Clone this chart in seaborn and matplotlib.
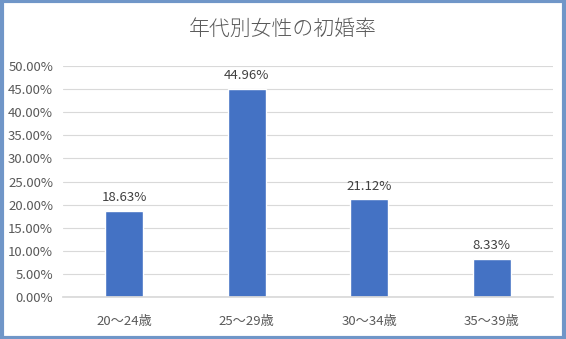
import matplotlib
matplotlib.use("Agg")
import matplotlib.pyplot as plt
import seaborn as sns
import pandas as pd
from matplotlib.patches import Rectangle
from matplotlib.ticker import PercentFormatter, MultipleLocator

categories = ["20～24歳", "25～29歳", "30～34歳", "35～39歳"]
values = [18.63, 44.96, 21.12, 8.33]
title = "年代別女性の初婚率"

sns.set_theme(style="white")
plt.rcParams['font.family'] = ['Noto Sans CJK JP', 'DejaVu Sans']

df = pd.DataFrame({"cat": categories, "val": values})

fig = plt.figure(figsize=(5.66, 3.39), dpi=100)
ax = fig.add_axes([0.111, 0.124, 0.866, 0.681])
sns.barplot(data=df, x="cat", y="val", color="#4472C4", width=0.31, ax=ax, saturation=1)

ax.set_ylim(0, 50)
ax.yaxis.set_major_locator(MultipleLocator(5))
ax.yaxis.set_major_formatter(PercentFormatter(decimals=2))
ax.grid(axis="y", color="#D9D9D9", linewidth=0.8)
ax.set_axisbelow(True)
for s in ["top", "right", "left"]:
    ax.spines[s].set_visible(False)
ax.spines["bottom"].set_color("#D9D9D9")
ax.set_xlabel("")
ax.set_ylabel("")
ax.tick_params(axis="both", length=0, colors="#595959", labelsize=9.5)
ax.tick_params(axis="y", pad=7)
ax.tick_params(axis="x", pad=13)

for i, v in enumerate(values):
    ax.annotate(f"{v:.2f}%", (i, v), xytext=(0, 5), textcoords="offset points",
                ha="center", va="bottom", fontsize=9.5, color="#404040")

fig.text(0.5, 0.915, title, ha="center", va="center", fontsize=15, color="#595959",
         fontweight="light")
fig.patches.append(Rectangle((0.003, 0.004), 0.994, 0.992, transform=fig.transFigure,
                             fill=False, edgecolor="#7096C8", linewidth=3))

fig.savefig("out.png", dpi=100)
